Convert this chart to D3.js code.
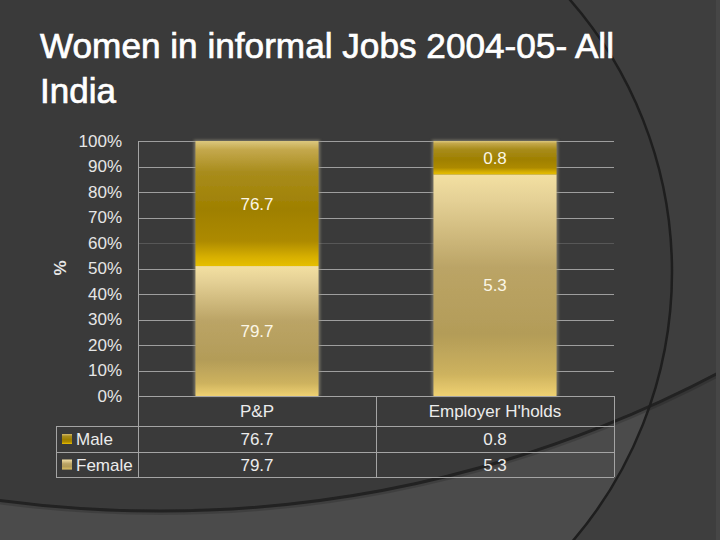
<!DOCTYPE html>
<html><head><meta charset="utf-8">
<script src="https://cdn.jsdelivr.net/npm/d3@7/dist/d3.min.js"></script>
<style>html,body{margin:0;padding:0;background:#3b3b3b;overflow:hidden}</style>
</head><body><svg id="c" width="720" height="540"></svg>
<script>
// ---- data ----
const titleLines = ["Women in informal Jobs 2004-05- All", "India"];
const categories = ["P&P", "Employer H'holds"];
const seriesNames = ["Male", "Female"];
const maleValues = [76.7, 0.8];
const femaleValues = [79.7, 5.3];
const yTickValues = [0, 0.1, 0.2, 0.3, 0.4, 0.5, 0.6, 0.7, 0.8, 0.9, 1.0];
const yAxisTitle = "%";

const W = 720, H = 540;
const svg = d3.select("#c");
const defs = svg.append("defs");
const font = "'Liberation Sans', Arial, sans-serif";

// ---- background decoration ----
const c1 = {cx: 258, cy: 272, r: 414};
const c2 = {cx: 160, cy: -687, r: 1198};
svg.append("rect").attr("width", W).attr("height", H).attr("fill", "#3e3e3e");
defs.append("clipPath").attr("id", "clipC1").append("circle")
  .attr("cx", c1.cx).attr("cy", c1.cy).attr("r", c1.r);
const bgIn = svg.append("g").attr("clip-path", "url(#clipC1)");
bgIn.append("rect").attr("width", W).attr("height", H).attr("fill", "#4b4b4b");
bgIn.append("circle").attr("cx", c2.cx).attr("cy", c2.cy).attr("r", c2.r).attr("fill", "#3a3a3a");
svg.append("circle").attr("cx", c2.cx).attr("cy", c2.cy + 1.5).attr("r", c2.r)
  .attr("fill", "none").attr("stroke", "#000").attr("stroke-opacity", 0.15).attr("stroke-width", 5);
svg.append("circle").attr("cx", c2.cx).attr("cy", c2.cy).attr("r", c2.r)
  .attr("fill", "none").attr("stroke", "#222").attr("stroke-width", 3);
svg.append("circle").attr("cx", c1.cx).attr("cy", c1.cy).attr("r", c1.r)
  .attr("fill", "none").attr("stroke", "#1e1e1e").attr("stroke-width", 2.5);
svg.append("rect").attr("x", 716).attr("y", 0).attr("width", 4).attr("height", H).attr("fill", "#464646");

// ---- title ----
const title = svg.append("g").attr("font-family", font).attr("fill", "#ffffff").attr("font-size", 35)
  .attr("stroke", "#ffffff").attr("stroke-width", 0.7);
title.append("text").attr("x", 40).attr("y", 58).text(titleLines[0])
  .attr("textLength", 574).attr("lengthAdjust", "spacingAndGlyphs");
title.append("text").attr("x", 40).attr("y", 103).text(titleLines[1]);

// ---- scales ----
const plotL = 138, plotR = 614, plotT = 141, plotB = 396;
const x = d3.scaleBand().domain(categories).range([plotL, plotR]).paddingInner(0.483).paddingOuter(0.2415);
const y = d3.scaleLinear().domain([0, 1]).range([plotB, plotT]);

// gradients
function grad(id, stops) {
  const g = defs.append("linearGradient").attr("id", id).attr("x1", 0).attr("y1", 0).attr("x2", 0).attr("y2", 1);
  stops.forEach(s => g.append("stop").attr("offset", s[0]).attr("stop-color", s[1]));
}
grad("gMale", [[0, "#dcc87e"], [0.07, "#c4a84c"], [0.25, "#a88c1c"], [0.55, "#9f8000"], [0.8, "#ad8a00"], [0.93, "#d8b000"], [1, "#e6bf00"]]);
grad("gFemale", [[0, "#f3e0a2"], [0.12, "#e4d095"], [0.42, "#bba466"], [0.72, "#b39c58"], [0.9, "#cdb25e"], [1, "#efd172"]]);
const fillFor = {Male: "url(#gMale)", Female: "url(#gFemale)"};
const f = defs.append("filter").attr("id", "soft").attr("x", "-10%").attr("y", "-10%").attr("width", "120%").attr("height", "120%");
f.append("feGaussianBlur").attr("stdDeviation", 0.7);
const fg = defs.append("filter").attr("id", "glow").attr("x", "-20%").attr("y", "-20%").attr("width", "140%").attr("height", "140%");
fg.append("feGaussianBlur").attr("stdDeviation", 1.6);

// ---- gridlines ----
svg.append("g").selectAll("line").data(yTickValues.filter(d => d > 0)).join("line")
  .attr("x1", plotL).attr("x2", plotR)
  .attr("y1", d => Math.round(y(d)) + 0.5).attr("y2", d => Math.round(y(d)) + 0.5)
  .attr("stroke", "#b0b0b0").attr("stroke-width", 1)
  .attr("stroke-opacity", d => Math.abs(d - 0.6) < 1e-9 ? 0.25 : 0.85);

// ---- y axis ----
const yAxis = d3.axisLeft(y).tickValues(yTickValues).tickFormat(d3.format(".0%")).tickSize(0).tickPadding(16);
const ag = svg.append("g").attr("transform", `translate(${plotL},0)`).call(yAxis);
ag.select(".domain").remove();
ag.selectAll("text").attr("font-family", font).attr("font-size", 17).attr("fill", "#e6e6e6");
svg.append("text").attr("transform", "translate(66,268) rotate(-90)")
  .attr("text-anchor", "middle").attr("font-family", font).attr("font-size", 17).attr("font-weight", "bold")
  .attr("fill", "#e6e6e6").text(yAxisTitle);

// ---- stacked bars ----
const rows = categories.map((c, i) => ({cat: c, Male: maleValues[i], Female: femaleValues[i]}));
const stack = d3.stack().keys(["Female", "Male"]).offset(d3.stackOffsetExpand);
const layers = stack(rows);
const bg = svg.append("g");
bg.selectAll("rect.glow").data(rows).join("rect").attr("class", "glow")
  .attr("x", d => x(d.cat) - 1.5).attr("width", x.bandwidth() + 3)
  .attr("y", y(1) - 1).attr("height", y(0) - y(1) + 1)
  .attr("fill", "#9a9480").attr("opacity", 0.7).attr("filter", "url(#glow)");
layers.forEach(layer => {
  const key = layer.key;
  bg.selectAll("rect.s" + key).data(layer).join("rect").attr("class", "s" + key)
    .attr("x", d => x(d.data.cat)).attr("width", x.bandwidth())
    .attr("y", d => y(d[1])).attr("height", d => y(d[0]) - y(d[1]))
    .attr("fill", fillFor[key]).attr("filter", "url(#soft)");
  bg.selectAll("text.l" + key).data(layer).join("text").attr("class", "l" + key)
    .attr("x", d => x(d.data.cat) + x.bandwidth() / 2)
    .attr("y", d => (y(d[0]) + y(d[1])) / 2 + 6)
    .attr("text-anchor", "middle").attr("font-family", font).attr("font-size", 17)
    .attr("fill", "#fbf6e6").text(d => d.data[key]);
});

// ---- data table ----
const lineColor = "#a4a4a4";
const legL = 56;
const rowH = [396, 426, 452, 477];
const colEdges = [plotL].concat(categories.map(c => x(c) - x.step() * x.paddingInner() / 2 + x.step()));
colEdges[colEdges.length - 1] = plotR;
const tg = svg.append("g").attr("stroke", lineColor).attr("stroke-width", 1).attr("shape-rendering", "crispEdges");
tg.append("line").attr("x1", plotL).attr("x2", plotR).attr("y1", rowH[0] + 0.5).attr("y2", rowH[0] + 0.5);
[1, 2, 3].forEach(i => tg.append("line").attr("x1", legL).attr("x2", plotR).attr("y1", rowH[i] + 0.5).attr("y2", rowH[i] + 0.5));
tg.append("line").attr("x1", plotL + 0.5).attr("x2", plotL + 0.5).attr("y1", plotT).attr("y2", rowH[3]);
tg.append("line").attr("x1", legL + 0.5).attr("x2", legL + 0.5).attr("y1", rowH[1]).attr("y2", rowH[3]);
colEdges.slice(1).forEach(cx => tg.append("line").attr("x1", Math.round(cx) + 0.5).attr("x2", Math.round(cx) + 0.5).attr("y1", rowH[0]).attr("y2", rowH[3]));

const tt = svg.append("g").attr("font-family", font).attr("font-size", 17).attr("fill", "#ececec").attr("text-anchor", "middle");
tt.selectAll("text.h").data(categories).join("text").attr("class", "h")
  .attr("x", d => x(d) + x.bandwidth() / 2).attr("y", (rowH[0] + rowH[1]) / 2 + 6).text(d => d);
const seriesVals = {Male: maleValues, Female: femaleValues};
seriesNames.forEach((s, si) => {
  const cy = (rowH[si + 1] + rowH[si + 2]) / 2;
  tt.selectAll("text.v" + s).data(categories).join("text").attr("class", "v" + s)
    .attr("x", d => x(d) + x.bandwidth() / 2).attr("y", cy + 6).text((d, i) => seriesVals[s][i]);
  svg.append("rect").attr("x", 62).attr("y", cy - 5).attr("width", 10).attr("height", 10)
    .attr("fill", fillFor[s]);
  svg.append("text").attr("x", 76).attr("y", cy + 6).attr("font-family", font).attr("font-size", 17)
    .attr("fill", "#ececec").text(s);
});
</script></body></html>
